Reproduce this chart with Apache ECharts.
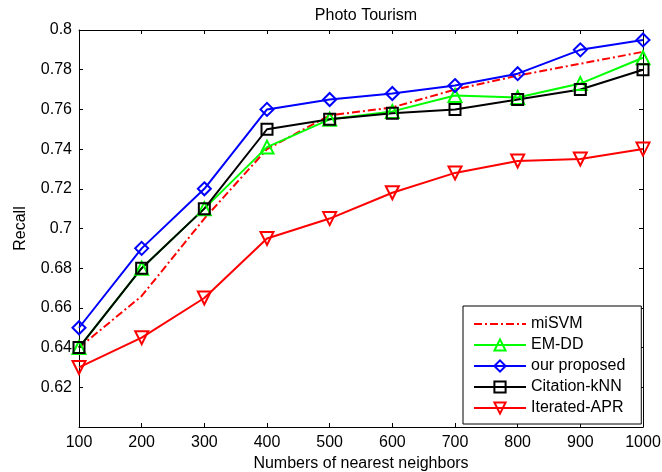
<!DOCTYPE html>
<html><head><meta charset="utf-8">
<script src="https://cdn.jsdelivr.net/npm/echarts@6/dist/echarts.min.js"></script>
<style>html,body{margin:0;padding:0;background:#fff}#c{width:662px;height:472px}</style>
</head><body><div id="c"></div>
<script>
const neighbors = [100, 200, 300, 400, 500, 600, 700, 800, 900, 1000];
const miSVM = [0.640, 0.666, 0.705, 0.740, 0.757, 0.761, 0.770, 0.777, 0.783, 0.789];
const emDD = [0.640, 0.680, 0.710, 0.741, 0.755, 0.759, 0.767, 0.766, 0.773, 0.786];
const ourProposed = [0.650, 0.690, 0.720, 0.760, 0.765, 0.768, 0.772, 0.778, 0.790, 0.795];
const citationKNN = [0.640, 0.680, 0.710, 0.750, 0.755, 0.758, 0.760, 0.765, 0.770, 0.780];
const iteratedAPR = [0.630, 0.645, 0.665, 0.695, 0.705, 0.718, 0.728, 0.734, 0.735, 0.740];
const seriesNames = ['miSVM', 'EM-DD', 'our proposed', 'Citation-kNN', 'Iterated-APR'];

const pairs = a => neighbors.map((x, i) => [x, a[i]]);
const font = 'Liberation Sans, Arial, sans-serif';
const FS = 16;
const chart = echarts.init(document.getElementById('c'));
const axisCommon = {
  axisLine: {show: true, lineStyle: {color: '#000', width: 1}},
  axisTick: {show: true, inside: true, length: 4, lineStyle: {color: '#000'}},
  splitLine: {show: false}
};
function mk(name, data, color, symbol, size, opts) {
  return Object.assign({
    name, type: 'line', data: pairs(data), symbol, symbolSize: size,
    showAllSymbol: true,
    lineStyle: {color, width: 2},
    itemStyle: {color: 'rgba(255,255,255,0)', borderColor: color, borderWidth: 2},
    emphasis: {disabled: true}, animation: false
  }, opts || {});
}
chart.setOption({
  animation: false,
  title: {text: 'Photo Tourism', left: 361, top: 3, textAlign: 'center',
    textStyle: {fontFamily: font, fontSize: FS, fontWeight: 'normal', color: '#000'}},
  grid: {left: 79, right: 19, top: 30, bottom: 45, containLabel: false, outerBoundsMode: 'none'},
  legend: {
    data: [
      {name: 'miSVM', itemStyle: {color: 'rgba(0,0,0,0)', borderWidth: 0, opacity: 0}},
      'EM-DD', 'our proposed', 'Citation-kNN', 'Iterated-APR'
    ],
    orient: 'vertical', left: 463, top: 306,
    itemWidth: 52, itemHeight: 14, itemGap: 3,
    padding: [9, 16, 7, 10], backgroundColor: '#fff',
    borderColor: '#000', borderWidth: 1, borderRadius: 0,
    textStyle: {fontFamily: font, fontSize: FS, color: '#000', lineHeight: 18}
  },
  xAxis: [
    Object.assign({type: 'value', min: 100, max: 1000, interval: 100,
      name: 'Numbers of nearest neighbors', nameLocation: 'middle', nameGap: 27,
      nameTextStyle: {fontFamily: font, fontSize: FS, color: '#000'},
      axisLabel: {fontFamily: font, fontSize: FS, color: '#000', margin: 8,
        formatter: v => String(v)}}, axisCommon),
    Object.assign({type: 'value', min: 100, max: 1000, interval: 100, position: 'top',
      axisLabel: {show: false}}, axisCommon)
  ],
  yAxis: [
    Object.assign({type: 'value', min: 0.6, max: 0.8, interval: 0.02,
      name: 'Recall', nameLocation: 'middle', nameGap: 50,
      nameTextStyle: {fontFamily: font, fontSize: FS, color: '#000'},
      axisLabel: {fontFamily: font, fontSize: FS, color: '#000', margin: 7, showMinLabel: false,
        formatter: v => String(+v.toFixed(2))}}, axisCommon),
    Object.assign({type: 'value', min: 0.6, max: 0.8, interval: 0.02, position: 'right',
      axisLabel: {show: false}}, axisCommon)
  ],
  series: [
    mk('miSVM', miSVM, '#ff0000', 'none', 0, {lineStyle: {color: '#ff0000', width: 2, type: [8, 3, 2, 3]}, itemStyle: {color: '#ff0000'}}),
    mk('EM-DD', emDD, '#00ff00', 'triangle', 13),
    mk('our proposed', ourProposed, '#0000ff', 'diamond', 13),
    mk('Citation-kNN', citationKNN, '#000000', 'rect', 11),
    mk('Iterated-APR', iteratedAPR, '#ff0000', 'triangle', 13, {symbolRotate: 180})
  ]
});
</script></body></html>
